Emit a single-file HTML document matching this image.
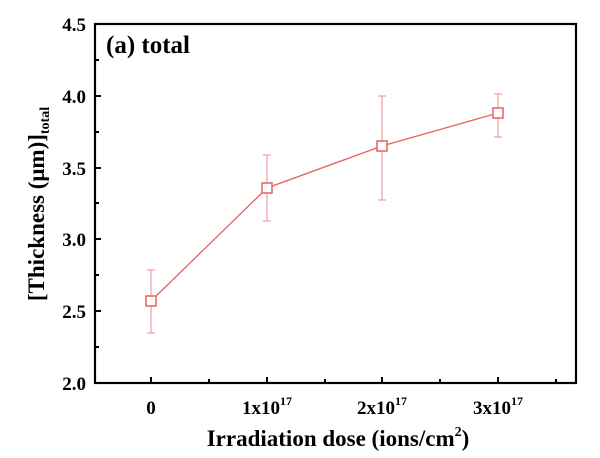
<!DOCTYPE html><html><head><style>body{margin:0;background:#fff}</style></head><body>
<svg width="600" height="453" xmlns="http://www.w3.org/2000/svg" font-family="Liberation Serif, serif" font-weight="bold">
<rect x="95" y="24" width="481" height="359" fill="none" stroke="#000" stroke-width="2.2"/>
<g stroke="#000" stroke-width="2">
<line x1="95" y1="311" x2="101" y2="311"/><line x1="95" y1="239" x2="101" y2="239"/><line x1="95" y1="168" x2="101" y2="168"/><line x1="95" y1="96" x2="101" y2="96"/>
<line x1="95" y1="347" x2="99" y2="347"/><line x1="95" y1="275" x2="99" y2="275"/><line x1="95" y1="203" x2="99" y2="203"/><line x1="95" y1="132" x2="99" y2="132"/><line x1="95" y1="60" x2="99" y2="60"/>
<line x1="151" y1="383" x2="151" y2="377"/><line x1="267" y1="383" x2="267" y2="377"/><line x1="382" y1="383" x2="382" y2="377"/><line x1="498" y1="383" x2="498" y2="377"/>
<line x1="209" y1="383" x2="209" y2="379"/><line x1="325" y1="383" x2="325" y2="379"/><line x1="440" y1="383" x2="440" y2="379"/><line x1="556" y1="383" x2="556" y2="379"/>
</g>
<g font-size="19" text-anchor="end">
<text x="86" y="390">2.0</text><text x="86" y="318">2.5</text><text x="86" y="246">3.0</text><text x="86" y="175">3.5</text><text x="86" y="103">4.0</text><text x="86" y="31">4.5</text>
</g>
<g font-size="19" text-anchor="middle">
<text x="151" y="414">0</text>
<text x="267" y="414">1x10<tspan font-size="12" dy="-9">17</tspan></text>
<text x="382" y="414">2x10<tspan font-size="12" dy="-9">17</tspan></text>
<text x="498" y="414">3x10<tspan font-size="12" dy="-9">17</tspan></text>
</g>
<text x="338" y="446" font-size="23" text-anchor="middle">Irradiation dose (ions/cm<tspan font-size="14" dy="-10">2</tspan><tspan dy="10">)</tspan></text>
<text transform="translate(44,204) rotate(-90)" font-size="23" text-anchor="middle">[Thickness (μm)]<tspan font-size="14" dy="5">total</tspan></text>
<text x="106" y="53" font-size="25">(a) total</text>
<g stroke="#f0a0a0" stroke-width="1.2" fill="none">
<path d="M151 333V270M147 333h8M147 270h8"/>
<path d="M267 221V155M263 221h8M263 155h8"/>
<path d="M382 200V96M378 200h8M378 96h8"/>
<path d="M498 137V94M494 137h8M494 94h8"/>
</g>
<polyline points="151,301 267,188 382,146 498,113" fill="none" stroke="#e86060" stroke-width="1.3"/>
<g fill="#fff" stroke="#e86060" stroke-width="1.5">
<rect x="146" y="296" width="10" height="10"/><rect x="262" y="183" width="10" height="10"/><rect x="377" y="141" width="10" height="10"/><rect x="493" y="108" width="10" height="10"/>
</g>
</svg></body></html>
